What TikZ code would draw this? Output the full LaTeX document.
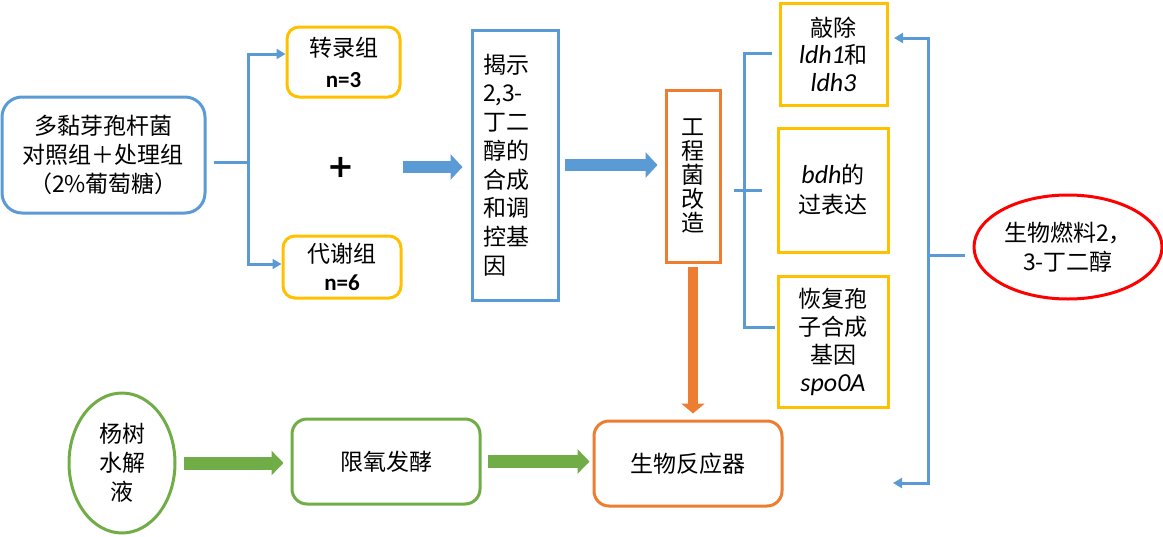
\documentclass[tikz,border=0pt]{standalone}
\usepackage{fontspec}
\setmainfont{Noto Sans CJK SC}
\newfontfamily\lat{Carlito}
\newfontfamily\latit{Carlito}[Scale=1.13]
\newfontfamily\dejavu{DejaVu Sans}
\usetikzlibrary{arrows.meta,shapes.geometric}
\definecolor{cblue}{HTML}{5B9BD5}
\definecolor{cyel}{HTML}{FFC000}
\definecolor{corg}{HTML}{ED7D31}
\definecolor{cgreen}{HTML}{70AD47}
\definecolor{cred}{HTML}{FF0000}
\newcommand\gene[1]{{\latit\itshape #1}}
\begin{document}
\begin{tikzpicture}[x=1pt,y=-1pt,
  txt/.style={font=\fontsize{23}{29}\selectfont, align=center, inner sep=0pt},
  bx/.style={txt, draw, line width=3pt},
  bluebox/.style={bx, draw=cblue},
  yelbox/.style={bx, draw=cyel},
  orgbox/.style={bx, draw=corg},
  greenbox/.style={bx, draw=cgreen},
  thinline/.style={draw=cblue, line width=3pt},
  thinarrow/.style={thinline, -{Triangle[length=9pt,width=10pt]}},
  bigblue/.style={draw=cblue, line width=12pt, -{Triangle[length=12pt,width=25pt]}},
  bigorange/.style={draw=corg, line width=10pt, -{Triangle[length=10pt,width=23pt]}},
  biggreen/.style={draw=cgreen, line width=13pt, -{Triangle[length=12pt,width=24pt]}}
]
\useasboundingbox (0,0) rectangle (1163,536);

% nodes
\node[bluebox, rounded corners=20pt, minimum width=203pt, minimum height=116pt] (A) at (103.5,155)
  {多黏芽孢杆菌\\对照组＋处理组\\（2\%葡萄糖）};
\node[yelbox, rounded corners=12pt, minimum width=113pt, minimum height=70pt, font=\fontsize{23}{31}\selectfont] (T) at (343.5,62)
  {转录组\\{\lat\bfseries n=3}};
\node[yelbox, rounded corners=12pt, minimum width=118pt, minimum height=62pt, font=\fontsize{23}{28}\selectfont] (M) at (342,267)
  {代谢组\\{\lat\bfseries n=6}};
\node[txt, font=\fontsize{32}{32}\selectfont] (plus) at (341,167) {\dejavu\bfseries +};
\node[bluebox, align=left, text width=64pt, inner xsep=11pt, minimum height=270pt, font=\fontsize{23}{28.7}\selectfont] (R) at (515,165)
  {揭示\\2,3-\\丁二\\醇的\\合成\\和调\\控基\\因};
\node[orgbox, minimum width=54pt, minimum height=172pt, font=\fontsize{23}{24}\selectfont] (E) at (693,176)
  {工\\程\\菌\\改\\造};
\node[yelbox, minimum width=107pt, minimum height=102pt, font=\fontsize{23}{27.5}\selectfont] (K) at (833.5,54)
  {敲除\\\gene{ldh1}和\\\gene{ldh3}};
\node[yelbox, minimum width=110pt, minimum height=124pt, font=\fontsize{23}{30}\selectfont] (B) at (833,190)
  {\gene{bdh}的\\过表达};
\node[yelbox, minimum width=110pt, minimum height=131pt, font=\fontsize{23}{28}\selectfont] (S) at (833,341.5)
  {恢复孢\\子合成\\基因\\\gene{spo0A}};
\node[txt, draw=cred, line width=3pt, ellipse, minimum width=188pt, minimum height=104pt] (P) at (1068,247)
  {生物燃料2，\\3-丁二醇};
\node[txt, draw=cgreen, line width=3pt, ellipse, minimum width=106pt, minimum height=140pt] (W) at (122,463)
  {杨树\\水解\\液};
\node[greenbox, rounded corners=15pt, minimum width=188pt, minimum height=85pt] (F) at (386,461.5) {限氧发酵};
\node[orgbox, rounded corners=15pt, minimum width=188pt, minimum height=85pt] (G) at (688,463.5) {生物反应器};

% left fork
\coordinate (forkL) at (248,162);
\draw[thinline] ([xshift=7pt,yshift=-7pt]A.east) -- (forkL);
\draw[thinarrow] (forkL) |- ([yshift=8pt]T.west);
\draw[thinarrow] (forkL) |- ([yshift=3pt]M.west);

% block arrows
\draw[bigblue, shorten <=62pt, shorten >=8pt] (plus.center) -- (plus.center -| R.west);
\draw[bigblue, shorten <=5pt, shorten >=7pt] (R.east) -- (R.east -| E.west);
\draw[bigorange, shorten <=3pt, shorten >=6pt] (E.south) -- (E.south |- G.north);
\draw[biggreen, shorten <=7pt, shorten >=7pt] (W.east) -- (W.east -| F.west);
\draw[biggreen, shorten <=6pt, shorten >=3pt] (F.east) -- (F.east -| G.west);

% middle bracket
\coordinate (b1) at (744,53);
\coordinate (b2) at (744,327);
\draw[thinline] ([xshift=-7pt]K.west |- b1) -- (b1) -- (b2) -- ([xshift=-2pt]S.west |- b2);
\draw[thinline] ([xshift=-10pt]b1 |- B.west) -- ([xshift=18pt]b1 |- B.west);

% right bracket
\coordinate (r1) at (928,38);
\coordinate (r2) at (928,483);
\coordinate (r1e) at (894,38);
\coordinate (r2e) at (893,483);
\draw[thinline, {Triangle[length=9pt,width=10pt]}-{Triangle[length=9pt,width=10pt]}] (r1e) -- (r1) -- (r2) -- (r2e);
\coordinate (pw) at ([yshift=-8pt]P.west);
\draw[thinline, shorten >=8pt] (r1 |- pw) -- (pw);
\end{tikzpicture}
\end{document}
